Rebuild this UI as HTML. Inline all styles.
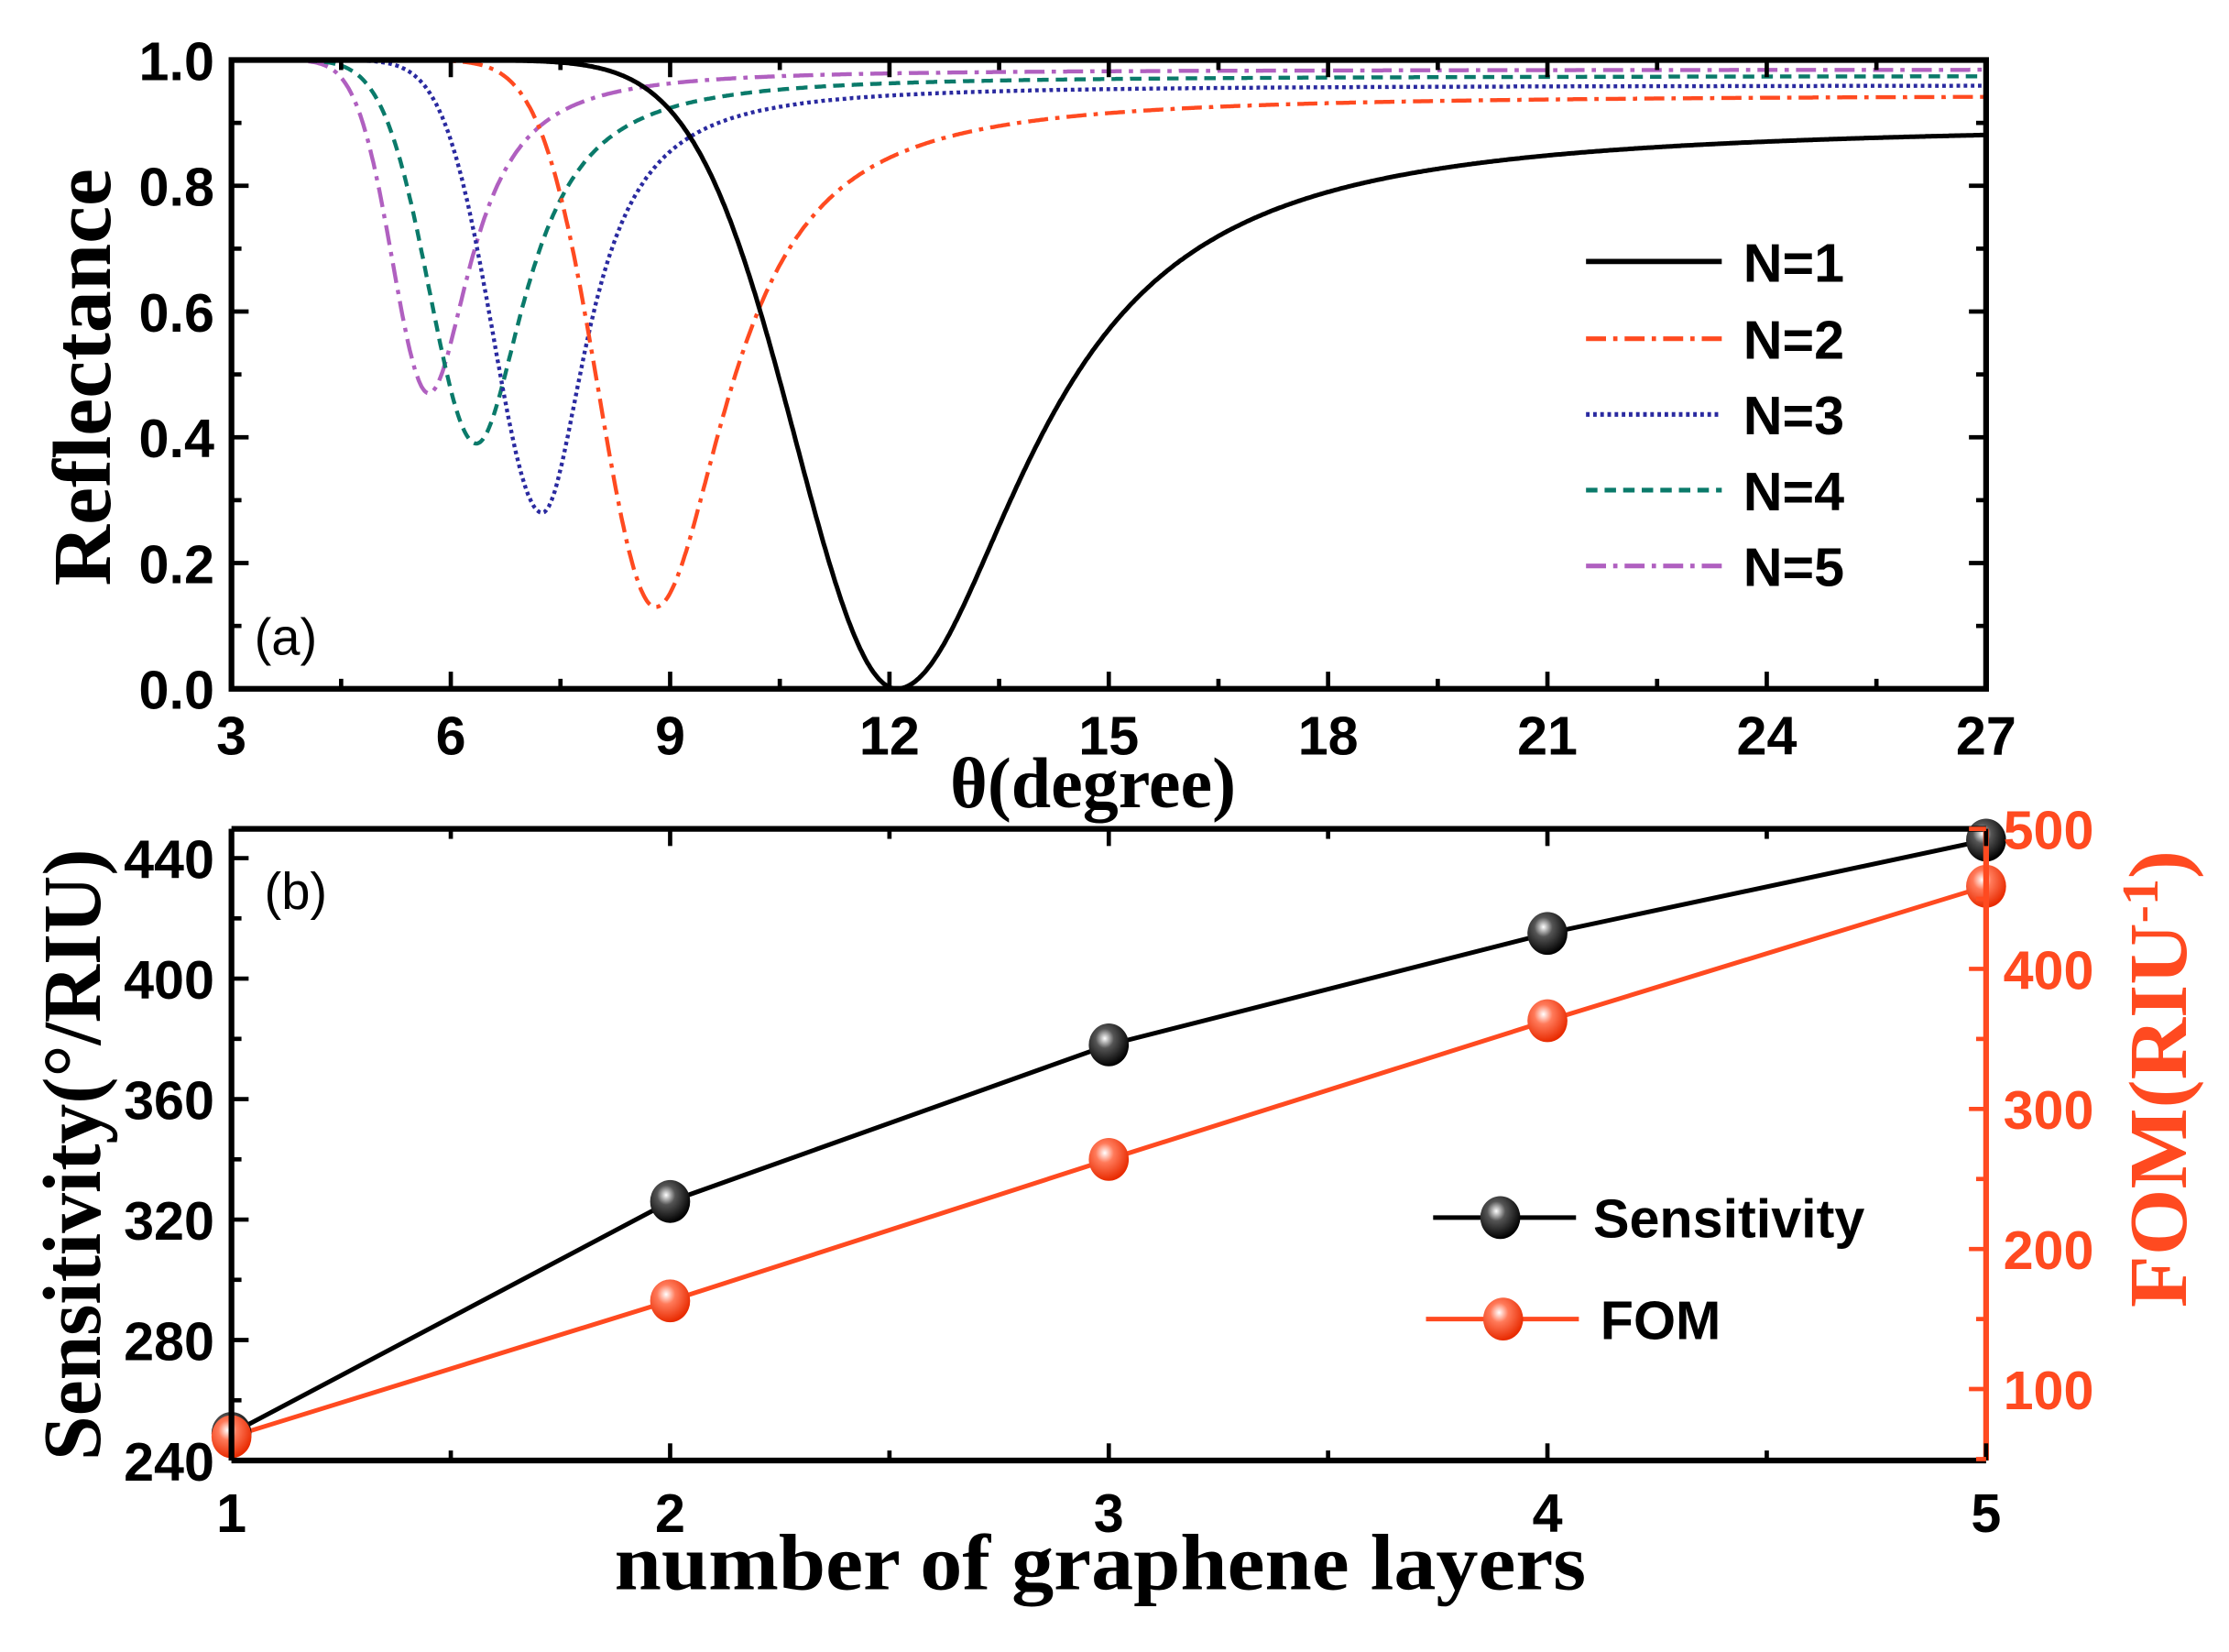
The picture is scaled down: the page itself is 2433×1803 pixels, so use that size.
<!DOCTYPE html>
<html><head><meta charset="utf-8"><style>
html,body{margin:0;padding:0;background:#fff}
svg{display:block}
.t{font-family:"Liberation Sans",Arial,sans-serif;font-weight:bold;font-size:38px}
.s{font-family:"Liberation Serif","Times New Roman",serif;font-weight:bold}
</style></head><body>
<svg id="c" xmlns="http://www.w3.org/2000/svg" width="2433" height="1803" viewBox="0 0 1560 1156" preserveAspectRatio="none">
<defs>
<radialGradient id="gb" cx="0.4" cy="0.35" r="0.65"><stop offset="0" stop-color="#fff"/><stop offset="0.35" stop-color="#555"/><stop offset="1" stop-color="#000"/></radialGradient>
<radialGradient id="gr" cx="0.4" cy="0.35" r="0.65"><stop offset="0" stop-color="#fff"/><stop offset="0.35" stop-color="#ff7a5a"/><stop offset="1" stop-color="#e82a00"/></radialGradient>
</defs>
<rect width="1560" height="1156" fill="#fff"/>
<g id="g"></g>
</svg>
<script>
var g=document.getElementById('g'),NS='http://www.w3.org/2000/svg';
function el(t,a,txt){var e=document.createElementNS(NS,t);for(var k in a)e.setAttribute(k,a[k]);if(txt!==undefined)e.textContent=txt;g.appendChild(e);return e;}
// Panel a
var AX0=162,AX1=1390,AY0=42,AY1=482;
function ax(t){return AX0+(t-3)/24*(AX1-AX0);} function ay(r){return AY1-r*(AY1-AY0);}
var curves=[
 {t0:12.1,mn:0,inf:0.9,wl:1.95,wr:2.2,c:'#000',d:'',w:3.2},
 {t0:8.8,mn:0.13,inf:0.945,wl:1.1,wr:1.2,c:'#ff4a20',d:'14 5 3 5',w:2.8},
 {t0:7.25,mn:0.28,inf:0.96,wl:0.95,wr:0.75,c:'#2a2aa0',d:'2.5 2.5',w:2.8},
 {t0:6.35,mn:0.39,inf:0.975,wl:0.9,wr:0.82,c:'#0a7a6a',d:'8 5',w:2.8},
 {t0:5.7,mn:0.47,inf:0.985,wl:0.7,wr:0.7,c:'#b060c0',d:'14 5 3 5',w:2.8}];
curves.slice().reverse().forEach(function(c){
 var p='';for(var t=3;t<=27.001;t+=0.02){var r,d=t-c.t0;
  if(d<0){r=1-(1-c.mn)*Math.exp(-(d/c.wl)*(d/c.wl));}
  else{var L=1/(1+(d/c.wr)*(d/c.wr));var base=c.inf+(1-c.inf)*Math.exp(-d*8);r=base-(base-c.mn)*L;}
  p+=(p?'L':'M')+ax(t).toFixed(1)+' '+ay(Math.max(0,r)).toFixed(1);}
 var a={d:p,fill:'none',stroke:c.c,'stroke-width':c.w};if(c.d)a['stroke-dasharray']=c.d;el('path',a);
});
el('rect',{x:AX0,y:AY0,width:AX1-AX0,height:AY1-AY0,fill:'none',stroke:'#000','stroke-width':4});
for(var t=3;t<=27;t+=1.5){var x=ax(t),L=(t%3==0)?12:7;
 el('line',{x1:x,y1:AY1,x2:x,y2:AY1-L,stroke:'#000','stroke-width':3});el('line',{x1:x,y1:AY0,x2:x,y2:AY0+L,stroke:'#000','stroke-width':3});
 if(t%3==0)el('text',{x:x,y:528,'text-anchor':'middle','class':'t'},String(t));}
for(var i=0;i<=10;i++){var y=ay(i/10),L=(i%2==0)?12:7;
 el('line',{x1:AX0,y1:y,x2:AX0+L,y2:y,stroke:'#000','stroke-width':3});el('line',{x1:AX1,y1:y,x2:AX1-L,y2:y,stroke:'#000','stroke-width':3});
 if(i%2==0)el('text',{x:150,y:y+14,'text-anchor':'end','class':'t'},(i/10).toFixed(1));}
el('text',{x:0,y:0,'class':'s','font-size':58,transform:'translate(77,264) rotate(-90)','text-anchor':'middle',textLength:292,lengthAdjust:'spacingAndGlyphs'},'Reflectance');
el('text',{x:765,y:565,'class':'s','font-size':50,'text-anchor':'middle',textLength:200,lengthAdjust:'spacingAndGlyphs'},'θ(degree)');
el('text',{x:178,y:458,'font-family':'Liberation Sans,sans-serif','font-size':36},'(a)');
var ly=[183,237,290,343,396];
curves.forEach(function(c,i){var a={x1:1110,y1:ly[i],x2:1205,y2:ly[i],stroke:c.c,'stroke-width':c.w+0.5};if(c.d)a['stroke-dasharray']=c.d;el('line',a);
 el('text',{x:1220,y:ly[i]+14,'class':'t'},'N='+(i+1));});
// Panel b
var BX0=162,BX1=1390,BY0=580,BY1=1022;
function bx(n){return BX0+(n-1)*(BX1-BX0)/4;}
function bys(s){return 1022-(s-240)*84.3/40;} function byf(f){return 580+(500-f)*0.98;}
var S=[249,326,378,415,446],F=[66,163,264,363,459];
var ps='',pf='';for(var i=0;i<5;i++){ps+=(i?'L':'M')+bx(i+1)+' '+bys(S[i]);pf+=(i?'L':'M')+bx(i+1)+' '+byf(F[i]);}
el('path',{d:ps,fill:'none',stroke:'#000','stroke-width':3.2});
el('path',{d:pf,fill:'none',stroke:'#ff4a20','stroke-width':3.2});
for(var i=0;i<5;i++){el('ellipse',{cx:bx(i+1),cy:bys(S[i]),rx:14,ry:15,fill:'url(#gb)'});}
for(var i=0;i<5;i++){el('ellipse',{cx:bx(i+1),cy:byf(F[i]),rx:14,ry:15,fill:'url(#gr)'});}
el('line',{x1:BX0,y1:BY0,x2:BX1,y2:BY0,stroke:'#000','stroke-width':4});
el('line',{x1:BX0,y1:BY1,x2:BX1,y2:BY1,stroke:'#000','stroke-width':4});
el('line',{x1:BX0,y1:BY0,x2:BX0,y2:BY1,stroke:'#000','stroke-width':4});
el('line',{x1:BX1,y1:BY0,x2:BX1,y2:BY1,stroke:'#ff4a20','stroke-width':4});
for(var n=1;n<=5;n+=0.5){var x=bx(n),L=(n%1==0)?12:7;
 el('line',{x1:x,y1:BY1,x2:x,y2:BY1-L,stroke:'#000','stroke-width':3});el('line',{x1:x,y1:BY0,x2:x,y2:BY0+L,stroke:'#000','stroke-width':3});
 if(n%1==0)el('text',{x:x,y:1072,'text-anchor':'middle','class':'t'},String(n));}
for(var s=240;s<=440;s+=20){var y=bys(s),L=(s%40==0)?12:7;
 el('line',{x1:BX0,y1:y,x2:BX0+L,y2:y,stroke:'#000','stroke-width':3});
 if(s%40==0)el('text',{x:150,y:y+14,'text-anchor':'end','class':'t'},String(s));}
for(var f=50;f<=500;f+=50){var y=byf(f),L=(f%100==0)?12:7;
 el('line',{x1:BX1,y1:y,x2:BX1-L,y2:y,stroke:'#ff4a20','stroke-width':3});
 if(f%100==0)el('text',{x:1402,y:y+14,'class':'t',fill:'#ff4a20'},String(f));}
el('text',{x:0,y:0,'class':'s','font-size':58,transform:'translate(70,808) rotate(-90)','text-anchor':'middle',textLength:428,lengthAdjust:'spacingAndGlyphs'},'Sensitivity(°/RIU)');
var fl=el('text',{x:0,y:0,'class':'s','font-size':58,fill:'#ff4a20',transform:'translate(1530,755) rotate(-90)','text-anchor':'middle',textLength:320,lengthAdjust:'spacingAndGlyphs'});
fl.innerHTML='FOM(RIU<tspan dy="-20" font-size="36">-1</tspan><tspan dy="20">)</tspan>';
el('text',{x:770,y:1112,'class':'s','font-size':56,'text-anchor':'middle',textLength:680,lengthAdjust:'spacingAndGlyphs'},'number of graphene layers');
el('text',{x:185,y:636,'font-family':'Liberation Sans,sans-serif','font-size':36},'(b)');
el('line',{x1:1003,y1:852,x2:1103,y2:852,stroke:'#000','stroke-width':3.2});
el('ellipse',{cx:1050,cy:852,rx:14,ry:15,fill:'url(#gb)'});
el('text',{x:1115,y:866,'class':'t'},'Sensitivity');
el('line',{x1:998,y1:923,x2:1105,y2:923,stroke:'#ff4a20','stroke-width':3.2});
el('ellipse',{cx:1052,cy:923,rx:14,ry:15,fill:'url(#gr)'});
el('text',{x:1120,y:937,'class':'t'},'FOM');
</script>
</body></html>
